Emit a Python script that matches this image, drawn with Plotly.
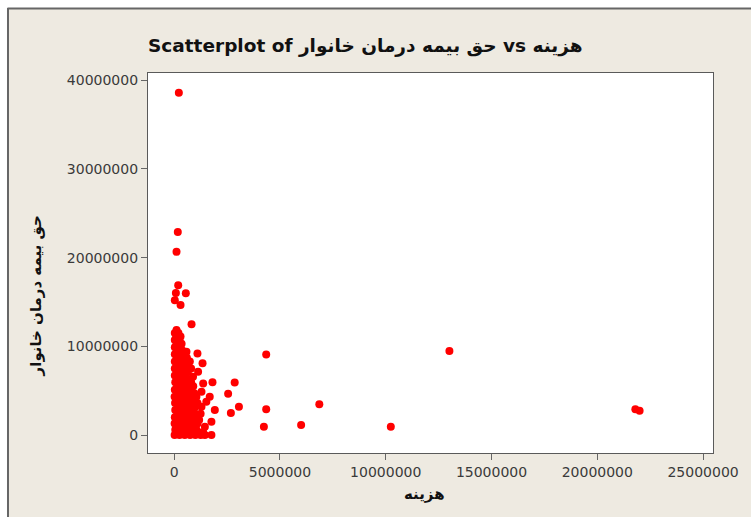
import plotly.graph_objects as go

# Household health-insurance premium against household expenditure (millions)
cost_m = [
    0.02, 0.25, 0.50, 0.75, 1.00, 1.25, 1.45, 1.76,
    0.10, 0.40, 0.65, 0.90, 1.15, 1.37,
    0.05, 0.30, 0.55, 0.80, 1.05,
    0.15, 0.45, 0.70, 1.00, 1.45,
    0.02, 0.28, 0.55, 0.85, 1.10,
    0.12, 0.40, 0.70, 0.95, 1.76, 1.18,
    0.03, 0.30, 0.60, 0.85, 1.10,
    0.15, 0.45, 0.75, 1.00, 1.25,
    0.05, 0.30, 0.60, 0.90, 1.92,
    0.18, 0.45, 0.70, 1.00, 1.29,
    0.04, 0.30, 0.60, 0.85, 1.10, 1.52,
    0.15, 0.42, 0.70, 0.95,
    0.02, 0.30, 0.55, 0.80, 1.05, 1.68,
    0.15, 0.45, 0.70, 0.95, 1.29,
    0.03, 0.30, 0.55, 0.80,
    0.15, 0.40, 0.65, 0.90, 1.37,
    0.05, 0.30, 0.55, 0.80, 1.81,
    0.15, 0.40, 0.65, 0.89,
    0.03, 0.30, 0.55,
    0.15, 0.40, 0.65, 1.13,
    0.03, 0.30, 0.55, 0.80,
    0.15, 0.40, 0.65, 1.34,
    0.03, 0.30, 0.55, 0.74,
    0.15, 0.40, 0.60,
    0.03, 0.30, 0.50, 1.10, 0.58,
    0.15, 0.40, 0.03, 0.30,
    0.12, 0.35, 0.03, 0.25,
    0.10, 0.30, 0.03, 0.20, 0.11,
    0.82, 0.30, 0.03, 0.55, 0.08, 0.19, 0.11, 0.17, 0.22,
    2.86, 2.55, 3.06, 2.68, 4.35, 4.35, 4.24, 6.00, 6.86, 10.24, 13.01, 21.80, 22.00,
]
premium_m = [
    0.00, 0.00, 0.00, 0.00, 0.00, 0.00, 0.00, 0.00,
    0.30, 0.30, 0.30, 0.30, 0.30, 0.30,
    0.60, 0.60, 0.60, 0.60, 0.60,
    0.94, 0.94, 0.94, 0.94, 0.94,
    1.30, 1.30, 1.30, 1.30, 1.30,
    1.60, 1.60, 1.60, 1.60, 1.50, 1.69,
    2.00, 2.00, 2.00, 2.00, 2.00,
    2.40, 2.40, 2.40, 2.40, 2.40,
    2.82, 2.82, 2.82, 2.82, 2.82,
    3.19, 3.19, 3.19, 3.19, 3.19,
    3.60, 3.60, 3.60, 3.60, 3.60, 3.75,
    4.00, 4.00, 4.00, 4.00,
    4.32, 4.32, 4.32, 4.32, 4.32, 4.32,
    4.70, 4.70, 4.70, 4.70, 4.88,
    5.10, 5.10, 5.10, 5.10,
    5.50, 5.50, 5.50, 5.50, 5.82,
    5.94, 5.94, 5.94, 5.94, 5.94,
    6.30, 6.30, 6.30, 6.57,
    6.70, 6.70, 6.70,
    7.13, 7.13, 7.13, 7.13,
    7.50, 7.50, 7.50, 7.50,
    7.90, 7.90, 7.90, 8.08,
    8.30, 8.30, 8.30, 8.30,
    8.70, 8.70, 8.70,
    9.10, 9.10, 9.10, 9.20, 9.39,
    9.50, 9.50, 9.90, 9.90,
    10.30, 10.30, 10.70, 10.70,
    11.10, 11.10, 11.50, 11.50, 11.83,
    12.50, 14.65, 15.20, 15.97, 16.00, 16.90, 20.65, 22.90, 38.60,
    5.93, 4.65, 3.19, 2.47, 9.09, 2.90, 0.94, 1.13, 3.46, 0.94, 9.46, 2.90, 2.74,
]

x_ticks = [0, 5000000, 10000000, 15000000, 20000000, 25000000]
y_ticks = [0, 10000000, 20000000, 30000000, 40000000]

x_label = "هزینه"
y_label = "حق بیمه درمان خانوار"
title_text = f"Scatterplot of {y_label} vs {x_label}"

cost = [v * 1e6 for v in cost_m]
premium = [v * 1e6 for v in premium_m]

W, H = 751, 517
ML, MR, MT, MB = 148, 36, 73, 64
PW, PH = W - ML - MR, H - MT - MB

def px(x):
    return (x - ML) / PW

def py(y):
    return (H - MB - y) / PH

BG = "#EEEAE1"
FRAME = "#5a5a5a"
TXT = "#3a3a3a"
FONT = "DejaVu Sans"

fig = go.Figure(
    go.Scatter(
        x=cost, y=premium, mode="markers",
        marker=dict(color="#ff0000", size=8, line=dict(width=0)),
        hoverinfo="skip",
    )
)

axis_common = dict(
    showgrid=False, zeroline=False, showline=True, mirror=True,
    linecolor=FRAME, linewidth=1.2,
    ticks="outside", ticklen=6, tickwidth=1, tickcolor="#666",
    tickfont=dict(family=FONT, size=14, color=TXT),
    tickformat="d",
)
fig.update_xaxes(range=[-1.238e6, 25.47e6], tickvals=x_ticks, **axis_common)
fig.update_yaxes(range=[-2.03e6, 40.82e6], tickvals=y_ticks, **axis_common)

shapes = [
    dict(type="rect", xref="paper", yref="paper", x0=px(-5), x1=px(W + 5),
         y0=py(8), y1=py(-5), fillcolor="white", line=dict(width=0)),
    dict(type="rect", xref="paper", yref="paper", x0=px(-5), x1=px(7),
         y0=py(H + 5), y1=py(-5), fillcolor="white", line=dict(width=0)),
    dict(type="line", xref="paper", yref="paper", x0=px(7), x1=px(W + 5),
         y0=py(8.5), y1=py(8.5), line=dict(color="#666", width=2)),
    dict(type="line", xref="paper", yref="paper", x0=px(7.5), x1=px(7.5),
         y0=py(8), y1=py(H + 5), line=dict(color="#666", width=2)),
]

annotations = [
    dict(text=title_text, xref="paper", yref="paper", x=px(366), y=py(46),
         xanchor="center", yanchor="middle", showarrow=False,
         font=dict(family=FONT, size=18.5, color="#111", weight="bold")),
    dict(text=y_label, xref="paper", yref="paper", x=px(36), y=py(296),
         xanchor="center", yanchor="middle", showarrow=False, textangle=-90,
         font=dict(family=FONT, size=15, color="#111", weight="bold")),
    dict(text=x_label, xref="paper", yref="paper", x=px(425), y=py(494),
         xanchor="center", yanchor="middle", showarrow=False,
         font=dict(family=FONT, size=15, color="#111", weight="bold")),
]

fig.update_layout(
    width=W, height=H,
    margin=dict(l=ML, r=MR, t=MT, b=MB),
    paper_bgcolor=BG, plot_bgcolor="white",
    showlegend=False,
    shapes=shapes, annotations=annotations,
)

fig.write_html("out.html")
